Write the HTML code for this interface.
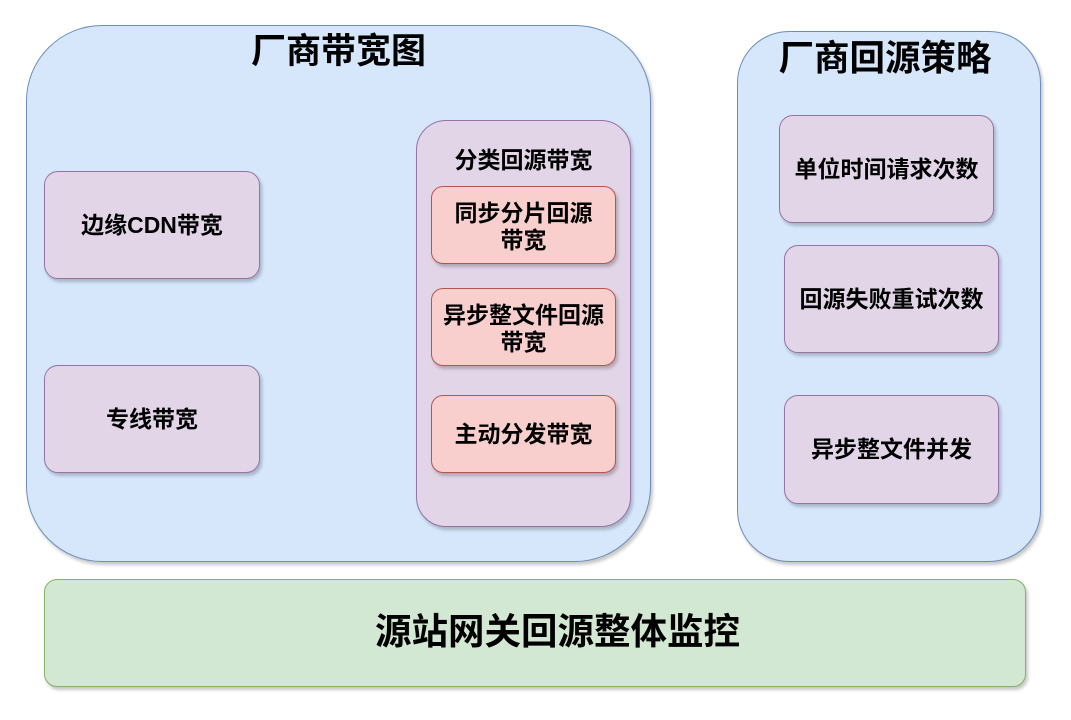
<!DOCTYPE html>
<html>
<head>
<meta charset="utf-8">
<style>
  html, body { margin:0; padding:0; }
  body { width:1071px; height:720px; background:#ffffff; position:relative; overflow:hidden;
         font-family:"Liberation Sans","Noto Sans CJK SC",sans-serif; font-weight:bold; color:#000; }
  .box { position:absolute; box-sizing:border-box; display:flex; align-items:center; justify-content:center;
         text-align:center; box-shadow:2px 3px 3px rgba(0,0,0,0.22); }
  .blue { background:#d6e7fc; border:1.5px solid #6c8ebf; }
  .purple { background:#e2d5e8; border:1.5px solid #9673a6; }
  .red { background:#f9cfcd; border:1.5px solid #b85450; }
  .green { background:#d3e8d3; border:1.5px solid #82b366; }
  .t { position:absolute; white-space:nowrap; text-align:center; }
  .s { font-size:23px; line-height:27px; }
</style>
</head>
<body>
  <!-- Left big panel -->
  <div class="box blue" style="left:26px; top:25px; width:625px; height:537px; border-radius:76px;"></div>
  <div class="t" style="left:26px; width:625px; top:31px; font-size:35px; line-height:42px;">厂商带宽图</div>

  <div class="box purple s" style="left:44px; top:171px; width:216px; height:108px; border-radius:14px;">边缘CDN带宽</div>
  <div class="box purple s" style="left:44px; top:365px; width:216px; height:108px; border-radius:14px;">专线带宽</div>

  <!-- Classified box -->
  <div class="box purple" style="left:416px; top:120px; width:215px; height:407px; border-radius:30px;"></div>
  <div class="t s" style="left:416px; width:215px; top:147px;">分类回源带宽</div>

  <div class="box red s" style="left:431px; top:186px; width:185px; height:78px; border-radius:12px; padding-top:3px;">同步分片回源<br>带宽</div>
  <div class="box red s" style="left:431px; top:288px; width:185px; height:78px; border-radius:12px; padding-top:3px;">异步整文件回源<br>带宽</div>
  <div class="box red s" style="left:431px; top:395px; width:185px; height:78px; border-radius:12px;">主动分发带宽</div>

  <!-- Right panel -->
  <div class="box blue" style="left:737px; top:31px; width:304px; height:531px; border-radius:52px;"></div>
  <div class="t" style="left:733px; width:304px; top:37px; font-size:35.5px; line-height:42px;">厂商回源策略</div>

  <div class="box purple s" style="left:779px; top:115px; width:215px; height:108px; border-radius:14px;">单位时间请求次数</div>
  <div class="box purple s" style="left:784px; top:245px; width:215px; height:108px; border-radius:14px;">回源失败重试次数</div>
  <div class="box purple s" style="left:784px; top:395px; width:215px; height:109px; border-radius:14px;">异步整文件并发</div>

  <!-- Bottom green -->
  <div class="box green" style="left:44px; top:579px; width:982px; height:108px; border-radius:13px;"></div>
  <div class="t" style="left:375px; width:362px; top:610px; font-size:36.5px; line-height:44px;">源站网关回源整体监控</div>
</body>
</html>
